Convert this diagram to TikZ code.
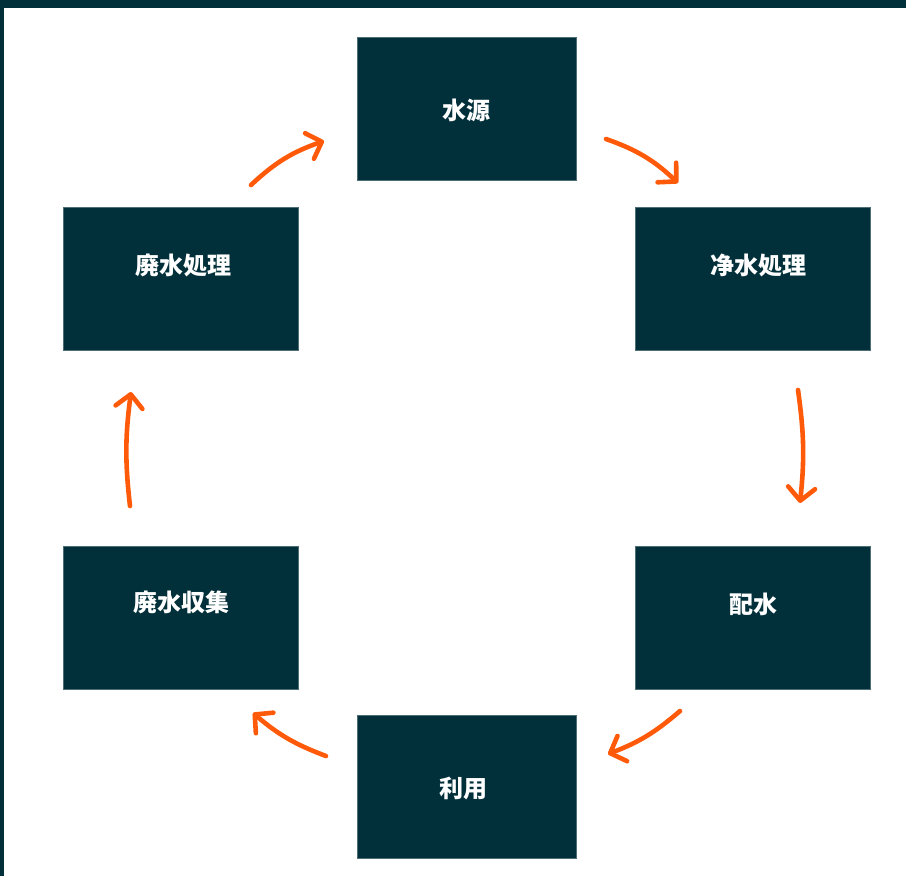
\documentclass[tikz,border=0pt]{standalone}
\usepackage{fontspec}
\newfontfamily\cjk{Noto Sans CJK JP}
\usetikzlibrary{arrows.meta}
\definecolor{boxc}{HTML}{02303A}
\definecolor{arrc}{HTML}{FF5A0A}
\tikzset{
  box/.style={fill=boxc, draw=boxc!70!white, line width=0.6pt, minimum width=#1, minimum height=143pt, inner sep=0pt, anchor=center},
  lbl/.style={text=white, font=\cjk\bfseries\fontsize{24pt}{26pt}\selectfont, inner sep=0pt},
  flow/.style={draw=arrc, line width=4.6pt, line cap=round, -{Straight Barb[length=13pt,width=27pt,line cap=round,line join=round]}},
}
\begin{document}
\begin{tikzpicture}[x=1pt,y=-1pt]
\useasboundingbox (0,0) rectangle (906,876);
\fill[white] (0,0) rectangle (906,876);
\fill[boxc] (0,0) rectangle (906,8);
\fill[boxc] (0,0) rectangle (4,876);
% boxes
\node[box=219pt] (src) at (466.5,108.5) {};
\node[box=235pt] (pur) at (752.5,278.5) {};
\node[box=235pt] (dist) at (752.5,617.5) {};
\node[box=219pt] (use) at (466.5,786.5) {};
\node[box=235pt] (coll) at (180.5,617.5) {};
\node[box=235pt] (wtr) at (180.5,278.5) {};
% labels
\node[lbl] (srcT) at (466,110) {水源};
\node[lbl] (purT) at (758,265) {净水処理};
\node[lbl] (distT) at (753,604) {配水};
\node[lbl] (useT) at (463,788) {利用};
\node[lbl] (collT) at (181,602) {廃水収集};
\node[lbl] (wtrT) at (183,265) {廃水処理};
% arrow end points
\coordinate (a1s) at (251,185); \coordinate (a1e) at (324,141);
\coordinate (a2s) at (606,139); \coordinate (a2e) at (678,183);
\coordinate (a3s) at (798,390); \coordinate (a3e) at (800,503);
\coordinate (a4s) at (680,711); \coordinate (a4e) at (608,754);
\coordinate (a5s) at (326,756); \coordinate (a5e) at (253,713);
\coordinate (a6s) at (130,506); \coordinate (a6e) at (131,392);
\draw[flow] (a1s) to[bend left=12] (a1e);
\draw[flow] (a2s) to[bend left=12] (a2e);
\draw[flow] (a3s) to[bend left=7] (a3e);
\draw[flow] (a4s) to[bend left=10] (a4e);
\draw[flow] (a5s) to[bend left=10] (a5e);
\draw[flow] (a6s) to[bend left=7] (a6e);
\end{tikzpicture}
\end{document}
